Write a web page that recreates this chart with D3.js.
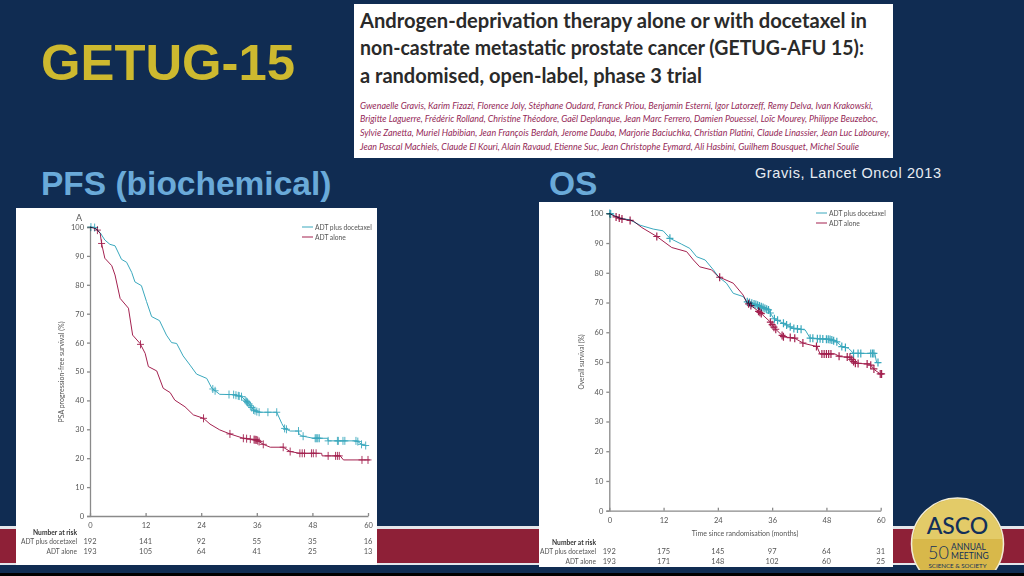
<!DOCTYPE html>
<html>
<head>
<meta charset="utf-8">
<style>
  body { margin: 0; background: #102c52; }
  svg { display: block; }
  .tick text, .risk, .legend, .ylab { font-family: Lato, "Open Sans", sans-serif; fill: #555; }
  .km { mix-blend-mode: multiply; }
</style>
<script src="https://cdn.jsdelivr.net/npm/d3@7"></script>
</head>
<body>
<svg id="slide" width="1024" height="576"></svg>
<script>
// slide text
var paperTitle = [
  "Androgen-deprivation therapy alone or with docetaxel in",
  "non-castrate metastatic prostate cancer (GETUG-AFU 15):",
  "a randomised, open-label, phase 3 trial"
];
var paperAuthors = [
  "Gwenaelle Gravis, Karim Fizazi, Florence Joly, Stéphane Oudard, Franck Priou, Benjamin Esterni, Igor Latorzeff, Remy Delva, Ivan Krakowski,",
  "Brigitte Laguerre, Frédéric Rolland, Christine Théodore, Gaël Deplanque, Jean Marc Ferrero, Damien Pouessel, Loïc Mourey, Philippe Beuzeboc,",
  "Sylvie Zanetta, Muriel Habibian, Jean François Berdah, Jerome Dauba, Marjorie Baciuchka, Christian Platini, Claude Linassier, Jean Luc Labourey,",
  "Jean Pascal Machiels, Claude El Kouri, Alain Ravaud, Etienne Suc, Jean Christophe Eymard, Ali Hasbini, Guilhem Bousquet, Michel Soulie"
];

// shared axis values
var monthTicks = [0, 12, 24, 36, 48, 60];
var pctTicks = [0, 10, 20, 30, 40, 50, 60, 70, 80, 90, 100];
var seriesNames = ["ADT plus docetaxel", "ADT alone"];

// PFS curves
var pfsDocMonths = [0, 1, 2.2, 3.2, 4.3, 5.4, 6.8, 7.9, 9, 9.7, 11.1, 12.2, 13.3, 15, 16.5, 17.6, 18.7, 20.1, 21.6, 23, 25.2, 26.3, 28, 31, 32.7, 34.2, 35.3, 36.3, 40.3, 41.4, 42, 43.2, 45, 45.1, 45.7, 48.2, 51.3, 51.4, 57.6, 58.6, 59.7];
var pfsDocPct = [100, 99.8, 98, 95.5, 94, 93.5, 88.8, 87.8, 84.3, 81, 79.7, 74.2, 69, 67.6, 62.6, 60, 59.7, 55.4, 52.2, 49.1, 47.6, 44.2, 42.1, 42, 41.3, 39, 36.7, 35.9, 35.9, 32, 30.3, 29.4, 29.4, 28.4, 27.7, 26.9, 26.9, 26, 26, 24.8, 24.3];
var pfsAloneMonths = [0, 1.4, 2.2, 2.5, 3.2, 4.7, 5.4, 6.5, 8.3, 9.2, 10.8, 11.9, 12.6, 14.4, 15.8, 17.3, 18.3, 20.5, 22.3, 24.5, 25.9, 28, 30.2, 33.1, 36, 37.4, 38.9, 41.7, 43.2, 45.3, 50, 50.1, 51.4, 54, 54.7, 60.4];
var pfsAlonePct = [100, 99.3, 97.8, 94.3, 89.2, 86.6, 83.4, 75.3, 71.9, 62.6, 59.7, 56.3, 51.7, 50.2, 44.2, 42.7, 40.1, 37.8, 35, 33.8, 31.8, 29.8, 28.4, 26.9, 26.3, 24.8, 23.8, 23.8, 22.3, 21.7, 21.7, 20.8, 20.8, 20.8, 19.4, 19.4];
var pfsDocCensored = [0.2, 1, 26.5, 27, 30, 31, 31.5, 32, 32.2, 32.7, 33.5, 33.8, 34, 34.3, 34.6, 34.9, 35.3, 35.6, 36, 36.5, 38.4, 40.3, 42, 42.4, 45, 46, 48.6, 48.8, 49, 49.2, 49.5, 51.4, 53.4, 53.6, 54.6, 55, 57.4, 57.8, 58.6, 59.5];
var pfsAloneCensored = [1.6, 2.5, 10.9, 24.5, 30.2, 33.1, 33.8, 34.6, 35.4, 35.6, 35.8, 36, 36.2, 36.5, 37.4, 41.7, 43.2, 45.3, 45.8, 46.3, 47.8, 48.2, 48.8, 51.4, 53, 53.4, 53.8, 58.7, 60];
var pfsDocRisk = [192, 141, 92, 55, 35, 16];
var pfsAloneRisk = [193, 105, 64, 41, 25, 13];

// OS curves
var osDocMonths = [0, 2.4, 4.6, 6.8, 9.7, 11.9, 13.4, 16, 17.8, 19.3, 21.2, 23, 24.1, 25.9, 27.4, 29.6, 30.4, 32.6, 35.2, 36.3, 38.5, 40.7, 43.3, 44.4, 48.8, 50.3, 51.4, 52.9, 54, 58.7, 59.1, 59.9];
var osDocPct = [100, 98.3, 97.8, 96, 94.7, 94.1, 91.6, 89.6, 88.2, 85.4, 84.3, 81, 78.7, 76.5, 73.1, 72, 70.3, 69.2, 67.5, 64.7, 63, 61.3, 60.8, 58, 57.6, 56.8, 55.2, 54.6, 52.9, 52.9, 49.8, 49.8];
var osAloneMonths = [0, 1.3, 2.7, 5.3, 7.2, 10.5, 13.8, 17.1, 18.6, 20, 22.6, 24.1, 27.4, 29.6, 30.4, 33.3, 35.5, 36.6, 38.5, 41, 42.9, 45.9, 46.6, 49.9, 51, 53.2, 54.3, 57.6, 58.7, 59.9, 60.6];
var osAlonePct = [100, 98.9, 98.1, 97.4, 95.2, 92.2, 88.5, 87.1, 84.3, 82, 81, 78.7, 76.5, 72.5, 70, 66.7, 63.6, 61.3, 58.5, 58, 56.3, 55.2, 52.7, 52.7, 51.8, 51.6, 49.6, 49.3, 47.3, 46, 46];
var osDocCensored = [0.1, 0.3, 13.4, 30.5, 31, 31.5, 32, 32.4, 32.8, 33.2, 33.6, 34, 34.4, 34.8, 35.2, 35.6, 36.5, 37.2, 38.5, 39.2, 40, 40.8, 41.6, 42.4, 44.4, 45, 46, 46.6, 47.2, 48, 48.4, 48.8, 49.2, 49.6, 50.3, 51.4, 52.2, 54, 55, 55.6, 57.8, 58.2, 58.5, 59.4];
var osAloneCensored = [1.5, 2.2, 2.8, 4.6, 10.5, 24.4, 30.8, 31.3, 33, 33.3, 33.6, 35.6, 36, 36.4, 36.8, 38.2, 38.5, 40, 41, 42.8, 45.8, 47, 47.5, 48, 48.5, 49, 50.8, 52.6, 53.2, 53.6, 54, 54.4, 55, 57, 57.8, 58.5, 59.9, 60.2];
var osDocRisk = [192, 175, 145, 97, 64, 31];
var osAloneRisk = [193, 171, 148, 102, 60, 25];

var teal = "#3aa8bd";
var red = "#a3214f";
var svg = d3.select("#slide");

// background furniture
svg.append("rect").attr("x", 0).attr("y", 526).attr("width", 1024).attr("height", 39).attr("fill", "#e4e6ea");
svg.append("rect").attr("x", 0).attr("y", 529).attr("width", 1024).attr("height", 34).attr("fill", "#8e2037");
svg.append("rect").attr("x", 0).attr("y", 573).attr("width", 1024).attr("height", 3).attr("fill", "#000");

var sans = "'Liberation Sans', Arial, sans-serif";
svg.append("text").attr("x", 41).attr("y", 80).attr("font-family", sans).attr("font-weight", "bold")
  .attr("font-size", 50.8).attr("fill", "#cdb92f").text("GETUG-15");
svg.append("text").attr("x", 41).attr("y", 195).attr("font-family", sans).attr("font-weight", "bold")
  .attr("font-size", 33.5).attr("fill", "#6aaad9").text("PFS (biochemical)");
svg.append("text").attr("x", 549).attr("y", 195).attr("font-family", sans).attr("font-weight", "bold")
  .attr("font-size", 33.5).attr("fill", "#6aaad9").text("OS");
svg.append("text").attr("x", 755).attr("y", 178).attr("font-family", sans).attr("font-size", 14.5)
  .attr("fill", "#e8edf3").attr("textLength", 186).text("Gravis, Lancet Oncol 2013");

// paper header clipping
svg.append("rect").attr("x", 354).attr("y", 4).attr("width", 539).attr("height", 154).attr("fill", "#fff");
var titleWidths = [507, 504, 342];
var authorWidths = [513, 518, 530, 499];
svg.selectAll(".ptitle").data(paperTitle).enter().append("text")
  .attr("class", "ptitle")
  .attr("x", 360)
  .attr("y", (d, i) => [28, 55, 83][i])
  .attr("font-family", "Lato, sans-serif")
  .attr("font-weight", 700)
  .attr("font-size", 20.5)
  .attr("fill", "#2a2a2a")
  .attr("textLength", (d, i) => titleWidths[i])
  .attr("lengthAdjust", "spacingAndGlyphs")
  .text(d => d);
svg.selectAll(".pauth").data(paperAuthors).enter().append("text")
  .attr("class", "pauth")
  .attr("x", 360)
  .attr("y", (d, i) => [109, 122, 136, 150][i])
  .attr("font-family", "Lato, sans-serif")
  .attr("font-style", "italic")
  .attr("font-size", 9.4)
  .attr("fill", "#952a58")
  .attr("textLength", (d, i) => authorWidths[i])
  .attr("lengthAdjust", "spacingAndGlyphs")
  .text(d => d);

// one Kaplan-Meier panel
function drawPanel(p) {
  svg.append("rect").attr("x", p.box[0]).attr("y", p.box[1]).attr("width", p.box[2]).attr("height", p.box[3]).attr("fill", "#fff");

  var x = d3.scaleLinear().domain([0, 60]).range([p.x0, p.x60]);
  var y = d3.scaleLinear().domain([0, 100]).range([p.y0, p.y100]);
  var g = svg.append("g").style("isolation", "isolate");

  var bottomAxis = d3.axisBottom(x).tickValues(monthTicks).tickSizeInner(-3).tickSizeOuter(0).tickPadding(7);
  var leftAxis = d3.axisLeft(y).tickValues(pctTicks).tickSize(3).tickPadding(3);
  var gx = g.append("g").attr("transform", `translate(0, ${p.y0})`).call(bottomAxis);
  var gy = g.append("g").attr("transform", `translate(${p.x0}, 0)`).call(leftAxis);
  [gx, gy].forEach(function(a) {
    a.selectAll("path, line").attr("stroke", "#8a8a8a").attr("stroke-width", 1.3);
    a.selectAll("text").attr("font-size", 7.5);
  });

  g.append("text").attr("class", "ylab").attr("font-size", p.ylabSize)
    .attr("text-anchor", "middle")
    .attr("transform", `translate(${p.ylabX}, ${p.ylabY}) rotate(-90)`)
    .text(p.ylabel);

  var line = d3.line().x(d => x(d[0])).y(d => y(d[1]));

  function curve(months, pct, censored, color) {
    var layer = g.append("g").attr("class", "km");
    layer.append("path")
      .datum(d3.zip(months, pct))
      .attr("fill", "none")
      .attr("stroke", color)
      .attr("stroke-width", 1)
      .attr("d", line);
    // censor ticks sit on the curve
    var lookup = d3.scaleLinear().domain(months).range(pct);
    layer.selectAll(null).data(censored).enter().append("path")
      .attr("fill", "none")
      .attr("stroke", color)
      .attr("stroke-width", p.censorWidth)
      .attr("d", d => {
        var cx = x(d), cy = y(lookup(d));
        return `M${cx - 3.5},${cy}H${cx + 3.5}M${cx},${cy - 4}V${cy + 4}`;
      });
  }
  curve(p.docMonths, p.docPct, p.docCens, teal);
  curve(p.aloneMonths, p.alonePct, p.aloneCens, red);

  // legend
  [teal, red].forEach(function(c, i) {
    var ly = p.legendY + i * 10;
    g.append("line").attr("x1", p.legendX).attr("x2", p.legendX + 11).attr("y1", ly).attr("y2", ly).attr("stroke", c);
    g.append("text").attr("class", "legend").attr("x", p.legendX + 13).attr("y", ly + 2.5)
      .attr("font-size", 6.7).text(seriesNames[i]);
  });

  // number at risk table
  g.append("text").attr("class", "risk").attr("x", p.riskX).attr("y", p.riskY)
    .attr("text-anchor", "end").attr("font-size", 6.7).attr("font-weight", "bold").style("fill", "#333").text("Number at risk");
  [p.docRisk, p.aloneRisk].forEach(function(row, i) {
    var ry = p.riskY + 9.5 * (i + 1);
    g.append("text").attr("class", "risk").attr("x", p.riskX).attr("y", ry)
      .attr("text-anchor", "end").attr("font-size", 6.6).text(seriesNames[i]);
    g.selectAll(null).data(row).enter().append("text")
      .attr("class", "risk")
      .attr("x", (d, j) => x(monthTicks[j]))
      .attr("y", ry)
      .attr("text-anchor", "middle")
      .attr("font-size", 7.5)
      .text(d => d);
  });
  return g;
}

var left = drawPanel({
  box: [16, 208, 361, 357], x0: 90, x60: 368, y0: 516, y100: 227,
  ylabel: "PSA progression-free survival (%)", ylabX: 64, ylabY: 372, ylabSize: 7, censorWidth: 0.9,
  docMonths: pfsDocMonths, docPct: pfsDocPct, docCens: pfsDocCensored,
  aloneMonths: pfsAloneMonths, alonePct: pfsAlonePct, aloneCens: pfsAloneCensored,
  docRisk: pfsDocRisk, aloneRisk: pfsAloneRisk,
  legendX: 302, legendY: 227, riskX: 77, riskY: 534.5
});
left.append("text").attr("class", "legend").attr("x", 76).attr("y", 221).attr("font-size", 9).text("A");

var right = drawPanel({
  box: [539, 202, 354, 365], x0: 609.3, x60: 880.7, y0: 510.7, y100: 213.3,
  ylabel: "Overall survival (%)", ylabX: 584, ylabY: 362, ylabSize: 6.6, censorWidth: 1.2,
  docMonths: osDocMonths, docPct: osDocPct, docCens: osDocCensored,
  aloneMonths: osAloneMonths, alonePct: osAlonePct, aloneCens: osAloneCensored,
  docRisk: osDocRisk, aloneRisk: osAloneRisk,
  legendX: 816, legendY: 213, riskX: 596, riskY: 544.5
});
right.append("text").attr("class", "legend").attr("x", 745).attr("y", 536).attr("text-anchor", "middle")
  .attr("font-size", 7).text("Time since randomisation (months)");

// ASCO badge
var logo = svg.append("g");
logo.append("clipPath").attr("id", "badge").append("rect").attr("x", 900).attr("y", 490).attr("width", 124).attr("height", 80);
var badge = logo.append("g").attr("clip-path", "url(#badge)");
badge.append("circle").attr("cx", 957.5).attr("cy", 544).attr("r", 46).attr("fill", "#d8b84a").attr("stroke", "#f1ecd6").attr("stroke-width", 1.5);
badge.append("clipPath").attr("id", "badgeTop").append("rect").attr("x", 900).attr("y", 490).attr("width", 124).attr("height", 49);
badge.append("circle").attr("cx", 957.5).attr("cy", 544).attr("r", 45).attr("fill", "#e3cb68").attr("clip-path", "url(#badgeTop)");
badge.append("text").attr("x", 957.5).attr("y", 534).attr("text-anchor", "middle").attr("font-family", "Lato, sans-serif")
  .attr("font-weight", 500).attr("font-size", 23).attr("fill", "#12305a").text("ASCO");
badge.append("text").attr("x", 928).attr("y", 559).attr("font-family", "Lato, sans-serif").attr("font-weight", 300)
  .attr("font-size", 18).attr("fill", "#12305a").text("50");
badge.append("text").attr("x", 951).attr("y", 550).attr("font-family", "Lato, sans-serif")
  .attr("font-size", 8.5).attr("fill", "#12305a").text("ANNUAL");
badge.append("text").attr("x", 951).attr("y", 559).attr("font-family", "Lato, sans-serif")
  .attr("font-size", 8.5).attr("fill", "#12305a").text("MEETING");
badge.append("text").attr("x", 957.5).attr("y", 568).attr("text-anchor", "middle").attr("font-family", "Lato, sans-serif")
  .attr("font-size", 6.2).attr("fill", "#12305a").text("SCIENCE & SOCIETY");
</script>
</body>
</html>
